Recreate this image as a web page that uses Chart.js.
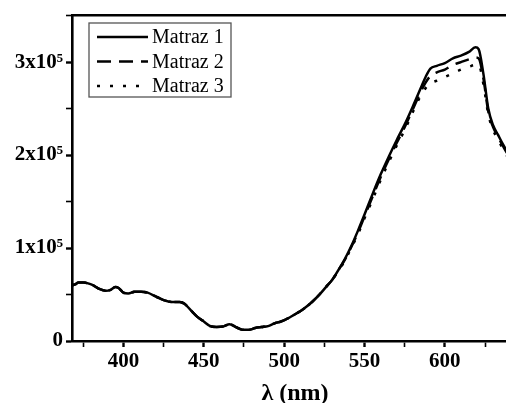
<!DOCTYPE html>
<html>
<head>
<meta charset="utf-8">
<script src="https://cdn.jsdelivr.net/npm/chart.js@4/dist/chart.umd.min.js"></script>
<style>
  html, body { margin: 0; padding: 0; background: #fff; overflow: hidden; }
  #wrap { width: 506px; height: 403px; overflow: hidden; }
</style>
</head>
<body>
<div id="wrap"><canvas id="spectrum" width="520" height="403"></canvas></div>
<script>
// Wavelength (nm) and intensity (x10^5 counts)
const lambda = [368, 370, 372, 375, 378, 381, 385, 389, 392, 395, 397, 400, 403, 407, 411, 415, 420, 425, 430, 435, 438, 442, 446, 450, 454, 458, 462, 466, 470, 474, 478, 482, 486, 490, 494, 498, 502, 506, 510, 514, 518, 522, 526, 530, 534, 538, 542, 546, 550, 555, 560, 565, 570, 575, 580, 585, 588, 591, 595, 600, 605, 610, 615, 619, 621, 624, 627, 630, 633, 636, 640, 645];

const matraz1 = [0.60, 0.61, 0.63, 0.63, 0.62, 0.60, 0.56, 0.54, 0.55, 0.58, 0.57, 0.52, 0.51, 0.53, 0.53, 0.52, 0.48, 0.44, 0.42, 0.42, 0.40, 0.33, 0.26, 0.21, 0.16, 0.15, 0.155, 0.18, 0.15, 0.12, 0.12, 0.14, 0.15, 0.16, 0.19, 0.21, 0.24, 0.28, 0.32, 0.37, 0.43, 0.50, 0.58, 0.66, 0.77, 0.89, 1.03, 1.19, 1.36, 1.58, 1.79, 1.98, 2.16, 2.33, 2.52, 2.72, 2.84, 2.93, 2.96, 2.99, 3.04, 3.07, 3.11, 3.16, 3.14, 2.87, 2.50, 2.32, 2.22, 2.12, 2.00, 1.85];

const matraz2 = [0.60, 0.61, 0.63, 0.63, 0.62, 0.60, 0.56, 0.54, 0.55, 0.58, 0.57, 0.52, 0.51, 0.53, 0.53, 0.52, 0.48, 0.44, 0.42, 0.42, 0.40, 0.33, 0.26, 0.21, 0.16, 0.15, 0.155, 0.18, 0.15, 0.12, 0.12, 0.14, 0.15, 0.16, 0.19, 0.21, 0.24, 0.28, 0.32, 0.37, 0.43, 0.50, 0.58, 0.66, 0.77, 0.88, 1.02, 1.17, 1.34, 1.55, 1.76, 1.95, 2.13, 2.30, 2.49, 2.68, 2.78, 2.85, 2.89, 2.92, 2.97, 3.00, 3.03, 3.05, 3.04, 2.82, 2.47, 2.30, 2.20, 2.10, 1.98, 1.83];

const matraz3 = [0.60, 0.61, 0.63, 0.63, 0.62, 0.60, 0.56, 0.54, 0.55, 0.58, 0.57, 0.52, 0.51, 0.53, 0.53, 0.52, 0.48, 0.44, 0.42, 0.42, 0.40, 0.33, 0.26, 0.21, 0.16, 0.15, 0.155, 0.18, 0.15, 0.12, 0.12, 0.14, 0.15, 0.16, 0.19, 0.21, 0.24, 0.28, 0.32, 0.37, 0.43, 0.50, 0.58, 0.66, 0.76, 0.87, 1.01, 1.15, 1.32, 1.52, 1.73, 1.92, 2.10, 2.27, 2.46, 2.64, 2.72, 2.77, 2.80, 2.84, 2.88, 2.92, 2.95, 2.97, 2.97, 2.76, 2.44, 2.27, 2.17, 2.07, 1.95, 1.80];

const seriesNames = ['Matraz 1', 'Matraz 2', 'Matraz 3'];
const xTickLabels = [400, 450, 500, 550, 600];
const yTickLabels = { 0: '0', 1: '1x10\u2075', 2: '2x10\u2075', 3: '3x10\u2075' };

function toPoints(values) {
    return lambda.map((l, i) => ({ x: l, y: values[i] }));
}

const serif = "'Liberation Serif', 'Times New Roman', serif";

// legend drawn inside the plot, with a thin frame
const boxLegend = {
    id: 'boxLegend',
    afterDraw(chart) {
        const ctx = chart.ctx;
        const left = 89, top = 23, w = 142, h = 74;
        ctx.save();
        ctx.strokeStyle = '#555';
        ctx.lineWidth = 1.3;
        ctx.strokeRect(left, top, w, h);
        ctx.font = '20px ' + serif;
        ctx.textBaseline = 'middle';
        ctx.fillStyle = '#000';
        chart.data.datasets.forEach((ds, i) => {
            const y = 37 + i * 24.5;
            ctx.beginPath();
            ctx.setLineDash(ds.borderDash || []);
            ctx.lineWidth = ds.borderWidth;
            ctx.strokeStyle = ds.borderColor;
            ctx.moveTo(97, y);
            ctx.lineTo(148, y);
            ctx.stroke();
            ctx.setLineDash([]);
            ctx.fillText(ds.label, 152, y + 1);
        });
        ctx.restore();
    }
};

const common = {
    borderColor: '#000',
    borderWidth: 2.5,
    pointRadius: 0,
    fill: false,
    cubicInterpolationMode: 'monotone'
};

new Chart(document.getElementById('spectrum'), {
    type: 'line',
    data: {
        datasets: [
            Object.assign({ label: seriesNames[0], data: toPoints(matraz1) }, common),
            Object.assign({ label: seriesNames[1], data: toPoints(matraz2), borderDash: [14, 8] }, common),
            Object.assign({ label: seriesNames[2], data: toPoints(matraz3), borderDash: [3, 10] }, common)
        ]
    },
    plugins: [boxLegend],
    options: {
        responsive: false,
        animation: false,
        layout: { padding: { top: 14, right: 2, left: 0, bottom: 0 } },
        plugins: {
            legend: { display: false },
            tooltip: { enabled: false }
        },
        scales: {
            x: {
                type: 'linear',
                position: 'bottom',
                min: 368,
                max: 645.5,
                afterFit: function (scale) { scale.height = 62; },
                border: { display: true, color: '#000', width: 2.6 },
                grid: {
                    display: true,
                    drawOnChartArea: false,
                    drawTicks: true,
                    tickLength: 6,
                    tickColor: '#000',
                    tickWidth: function (c) { return c.tick && c.tick.value % 50 === 0 ? 2.4 : 1.6; }
                },
                ticks: {
                    stepSize: 25,
                    includeBounds: false,
                    autoSkip: false,
                    maxRotation: 0,
                    padding: 2,
                    color: '#000',
                    font: { family: serif, size: 21, weight: 'bold' },
                    callback: function (value) {
                        return xTickLabels.includes(value) ? String(value) : '';
                    }
                },
                title: {
                    display: true,
                    text: '\u03bb (nm)',
                    color: '#000',
                    font: { family: serif, size: 24, weight: 'bold', lineHeight: 1 },
                    padding: { top: 0, bottom: -3 }
                }
            },
            xTop: {
                type: 'linear',
                position: 'top',
                min: 368,
                max: 645.5,
                afterFit: function (scale) { scale.height = 0; },
                border: { display: true, color: '#000', width: 2.6 },
                grid: { display: false },
                ticks: { display: false }
            },
            y: {
                type: 'linear',
                min: 0,
                max: 3.5,
                afterFit: function (scale) { scale.width = 72; },
                border: { display: true, color: '#000', width: 2.6 },
                grid: {
                    display: true,
                    drawOnChartArea: false,
                    drawTicks: true,
                    tickLength: 6,
                    tickColor: '#000',
                    tickWidth: function (c) { return c.tick && c.tick.value % 1 === 0 ? 2.4 : 1.6; }
                },
                ticks: {
                    stepSize: 0.5,
                    autoSkip: false,
                    padding: 3,
                    color: '#000',
                    font: { family: serif, size: 21, weight: 'bold' },
                    callback: function (value) {
                        return yTickLabels[value] !== undefined ? yTickLabels[value] : '';
                    }
                }
            }
        }
    }
});
</script>
</body>
</html>
